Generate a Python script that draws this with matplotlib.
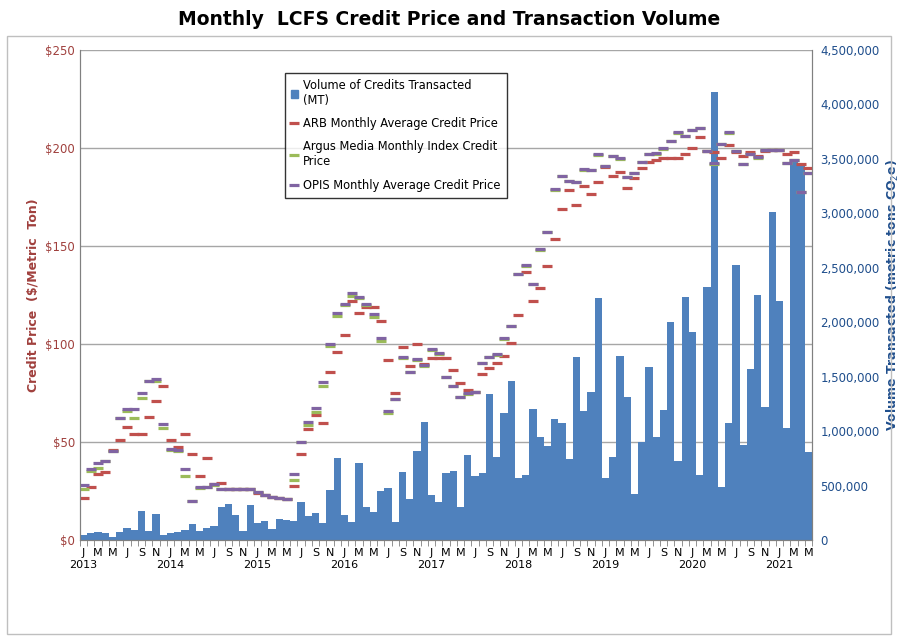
import matplotlib
matplotlib.use("Agg")
import matplotlib.pyplot as plt
from matplotlib.lines import Line2D
from matplotlib.patches import Patch, Rectangle
import numpy as np

start_year = 2013
month_letters = ["J","F","M","A","M","J","J","A","S","O","N","D"]

volume = [46,61,70,67,30,77,107,92,270,86,240,46,
          61,77,92,144,83,107,132,306,328,230,86,321,
          153,175,98,190,184,178,346,220,251,153,460,750,
          230,168,704,306,254,453,478,168,628,373,820,1087,
          413,352,615,636,300,780,587,615,1341,765,1163,1464,
          566,594,1200,943,866,1111,1077,744,1684,1188,1362,2220,
          566,765,1690,1316,423,903,1592,943,1194,2005,725,2230,
          1908,597,2327,4118,484,1077,2526,872,1567,2251,1225,3016,
          2194,1031,3500,3450,808]
volume = [v*1000 for v in volume]

arb = [21.6,26.9,33.7,34.9,45.9,50.9,57.8,53.9,53.9,62.8,70.9,78.7,
       50.9,47.6,53.9,43.9,32.8,41.7,28.6,28.9,26,26,26,26,
       24.1,23,22.1,21.6,21.1,27.7,43.7,56.6,63.6,59.7,85.7,95.9,
       104.8,121.9,115.6,118.9,118.9,111.7,91.8,74.8,98.3,88.8,100,89.6,
       92.7,92.7,92.7,86.7,79.9,76.5,75.7,84.7,87.6,90.5,93.9,100.7,
       114.6,136.6,121.9,128.7,139.8,153.7,168.9,178.6,170.7,180.6,176.7,182.7,
       190.1,185.9,187.9,179.8,184.5,190,193,193.9,194.7,194.7,194.7,196.9,
       199.8,205.8,198.5,198.1,194.7,201.5,198.1,195.9,198.1,195.9,198.5,199,
       199,196.9,197.8,191.8,190]

opis = [28.1,36.2,39.5,40.5,45.4,62.4,67,66.7,75.2,81.1,82,59,
        46.4,45.9,36.1,20.1,26.9,27.2,28.6,26,26,26,26,26,
        24.7,23,22.1,21.6,21.1,33.7,50.2,60.4,67.2,80.4,100,116,
        120.4,125.9,123.8,120.4,115.1,102.9,66,72,93.2,85.9,92.2,89.3,
        97.4,95.2,83.3,78.6,73.1,74.8,75.7,90.5,93.5,94.7,102.9,109.2,
        135.7,140.3,130.6,148.3,157.1,178.9,185.9,183.2,182.8,189.1,188.8,196.8,
        190.8,195.9,194.7,185.4,187.1,193,196.9,197.3,199.8,203.6,208,206.1,
        209.2,210,198.6,192.2,202,208,198.6,191.8,196.9,195.2,199,199,
        199,192.5,193.9,177.7,187.4]

argus = [26,35.4,36.7,40.5,45.4,62.4,66,62,72.4,81,81,57.3,
         46,45.5,32.8,20,26.5,27,28,26,26,26,26,26,
         24.7,23,22.1,21.6,21.1,30.6,50,58.7,65.5,78.7,99,114.3,
         120,124.7,123.5,120,114,101.7,65,72,93,85.5,92,89,
         97,95,83,78.5,73,74.6,75.5,90.3,93.3,94.5,102.7,109,
         135.5,140,130.4,148,157,178.7,185.7,183,182.6,189,188.6,196.6,
         190.6,195.7,194.5,185.2,187,192.8,196.7,197.1,199.6,203.4,207.8,206.3,
         209.4,210.2,198.4,192,201.8,207.8,198.4,191.6,196.7,195,198.8,198.8,
         198.8,192.3,193.7,177.5,187.2]

n = len(volume)
x = np.arange(n)

fig = plt.figure(figsize=(8.98, 6.39), dpi=100)
fig.patches.append(Rectangle((0.008, 0.008), 0.984, 0.935, transform=fig.transFigure,
                             fill=False, edgecolor="#BFBFBF", lw=1))
ax = fig.add_axes([80/898, 1-540/639, 732/898, 490/639])
ax2 = ax.twinx()
ax.set_zorder(ax2.get_zorder()+1)
ax.patch.set_visible(False)

ax2.bar(x, volume, width=1.0, color="#4F81BD", zorder=2)
ax2.set_ylim(0, 4500000)
ax2.set_yticks(np.arange(0, 4500001, 500000))
ax2.set_yticklabels([f"{v:,}" for v in range(0, 4500001, 500000)], color="#1F4E8C", fontsize=8.5)

ms = 7; mew = 2.3
ax.plot(x, arb, ls="none", marker="_", ms=ms, mew=mew, color="#C0504D")
ax.plot(x, argus, ls="none", marker="_", ms=ms, mew=mew, color="#9BBB59")
ax.plot(x, opis, ls="none", marker="_", ms=ms, mew=mew, color="#8064A2")
ax.set_ylim(0, 250)
ax.set_yticks(np.arange(0, 251, 50))
ax.set_yticklabels([f"${v}" for v in range(0, 251, 50)], color="#A0403D", fontsize=8.5)
for v in range(50, 251, 50):
    ax2.axhline(v/250*4500000, color="#A6A6A6", lw=1, zorder=1)

ax.set_xlim(-0.5, n-0.5)
ticks = list(range(0, n, 2))
labels = []
for i in ticks:
    lab = month_letters[i % 12]
    if i % 12 == 0:
        lab += f"\n{start_year + i//12}"
    labels.append(lab)
ax.set_xticks(ticks)
ax.set_xticklabels(labels, fontsize=8)
ax.tick_params(axis="x", length=0, pad=6)
ax.set_xticks(np.arange(-0.5, n, 1), minor=True)
ax.tick_params(axis="x", which="minor", length=4, color="#808080")
for a in (ax, ax2):
    a.spines["top"].set_visible(False)
    for s in ["left", "right", "bottom"]:
        a.spines[s].set_color("#808080")
ax.tick_params(axis="y", length=0)
ax2.tick_params(axis="y", length=0, pad=6)

ax.set_ylabel("Credit Price  ($/Metric  Ton)", color="#A0403D", fontsize=9, fontweight="bold", labelpad=4)
ax2.set_ylabel("Volume Transacted (metric tons CO$_2$e)", color="#1F4E8C", fontsize=9,
               fontweight="bold", labelpad=4)
fig.suptitle("Monthly  LCFS Credit Price and Transaction Volume", y=0.985, fontsize=13.5, fontweight="bold")

handles = [Patch(color="#4F81BD"),
           Line2D([], [], ls="none", marker="_", ms=ms, mew=mew, color="#C0504D"),
           Line2D([], [], ls="none", marker="_", ms=ms, mew=mew, color="#9BBB59"),
           Line2D([], [], ls="none", marker="_", ms=ms, mew=mew, color="#8064A2")]
names = ["Volume of Credits Transacted\n(MT)", "ARB Monthly Average Credit Price",
         "Argus Media Monthly Index Credit\nPrice", "OPIS Monthly Average Credit Price"]
leg = ax.legend(handles, names, loc="upper left", bbox_to_anchor=(0.272, 0.965), fontsize=8.3,
                frameon=True, fancybox=False, edgecolor="black", handlelength=0.6,
                handletextpad=0.5, labelspacing=0.9, borderpad=0.5)
leg.get_frame().set_linewidth(1)

fig.savefig("out.png", dpi=100)
